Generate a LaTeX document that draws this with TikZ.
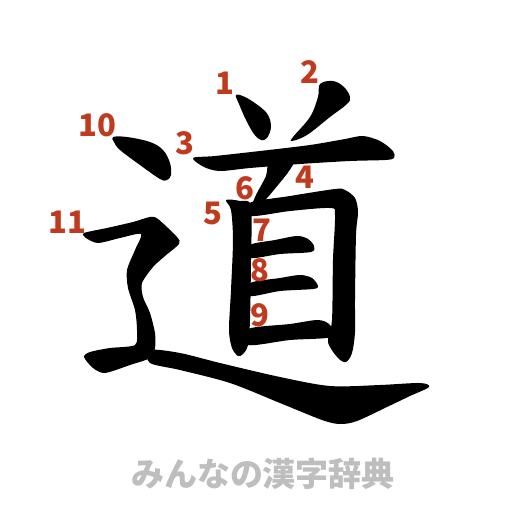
\documentclass[tikz,border=0pt]{standalone}
\usepackage{fontspec}
\newfontfamily\jpfont{Noto Sans CJK JP}
\usetikzlibrary{positioning}
\definecolor{rust}{RGB}{192,58,30}
\definecolor{mist}{RGB}{190,190,190}
\tikzset{
  brush/.style={fill=black,draw=none},
  num/.style={text=rust,font=\jpfont\bfseries\fontsize{31}{31}\selectfont,inner sep=0pt},
  credit/.style={text=mist,font=\jpfont\bfseries\fontsize{33}{33}\selectfont,inner sep=0pt}
}

\begin{document}
\begin{tikzpicture}[x=1pt,y=-1pt]
    \useasboundingbox[fill=white] (0,0) rectangle (512,512);
    % strokes of the kanji
    \fill[brush] plot[smooth cycle,tension=0.6] coordinates {(236,95) (245,97) (259,106) (268,115) (271,127) (267,138) (261,140) (254,134) (246,120) (239,104)};
    \fill[brush] plot[smooth cycle,tension=0.6] coordinates {(320,84) (333,81) (344,87) (350,97) (347,104) (330,117) (307,135) (292,141) (293,137) (310,117) (318,97)};
    \fill[brush] plot[smooth cycle,tension=0.5] coordinates {(193,158) (215,156) (260,151) (310,145) (345,139) (363,136) (380,141) (393,151) (394,158) (385,160) (350,161) (300,164) (250,168) (220,171) (204,167)};
    \fill[brush] plot[smooth cycle,tension=0.5] coordinates {(270,161) (293,161) (289,171) (278,185) (264,201) (252,207) (256,195) (266,176)};
    \fill[brush] plot[smooth cycle,tension=0.5] coordinates {(226,200) (240,201) (251,206) (251,260) (250,320) (248,345) (243,354) (238,356) (232,348) (229,330) (231,290) (233,240) (231,210)};
    \fill[brush] plot[smooth cycle,tension=0.5] coordinates {(249,203) (290,196) (335,189) (345,190) (355,198) (358,212) (356,235) (355,300) (355,332) (352,353) (346,362) (338,358) (328,342) (332,320) (333,260) (335,215) (330,208) (290,211) (250,216)};
    \fill[brush] plot[smooth cycle,tension=0.5] coordinates {(250,245) (275,240) (297,236) (308,239) (314,246) (311,252) (280,254) (250,258)};
    \fill[brush] plot[smooth cycle,tension=0.5] coordinates {(250,283) (280,278) (300,275) (312,278) (318,286) (313,289) (280,291) (250,296)};
    \fill[brush] plot[smooth cycle,tension=0.5] coordinates {(248,329) (290,324) (318,320) (330,325) (332,337) (290,340) (248,345)};
    \fill[brush] plot[smooth cycle,tension=0.6] coordinates {(113,137) (127,137) (150,142) (163,150) (170,163) (171,175) (167,180) (160,179) (140,165) (120,150) (114,142)};
    \fill[brush] plot[smooth cycle,tension=0.45] coordinates {(84,233) (107,228) (133,222) (150,217) (158,219) (177,237) (179,244) (165,256) (153,267) (142,283) (143,297) (150,313) (155,333) (155,348) (150,358) (130,365) (105,373) (93,368) (84,357) (90,352) (110,348) (135,345) (137,330) (135,310) (128,288) (127,270) (135,250) (141,234) (120,238) (98,243) (86,238)};
    \fill[brush] plot[smooth cycle,tension=0.5] coordinates {(150,350) (180,353) (220,363) (280,377) (330,386) (380,385) (420,383) (429,387) (410,396) (387,407) (357,421) (340,424) (322,420) (280,403) (230,383) (180,370) (150,363)};
    % stroke numbers
    \foreach \n/\x/\y in {1/225/83, 2/310/72, 3/185/143, 4/305/177, 5/213/213, 6/245/188,
      7/262/230, 8/260/270, 9/260/315, 10/97/125, 11/67/222}
    {
      \node[num] (n\n) at (\x,\y) {\n};
    }
    \node[credit] (credit) at (263,474) {みんなの漢字辞典};
  \end{tikzpicture}
\end{document}
